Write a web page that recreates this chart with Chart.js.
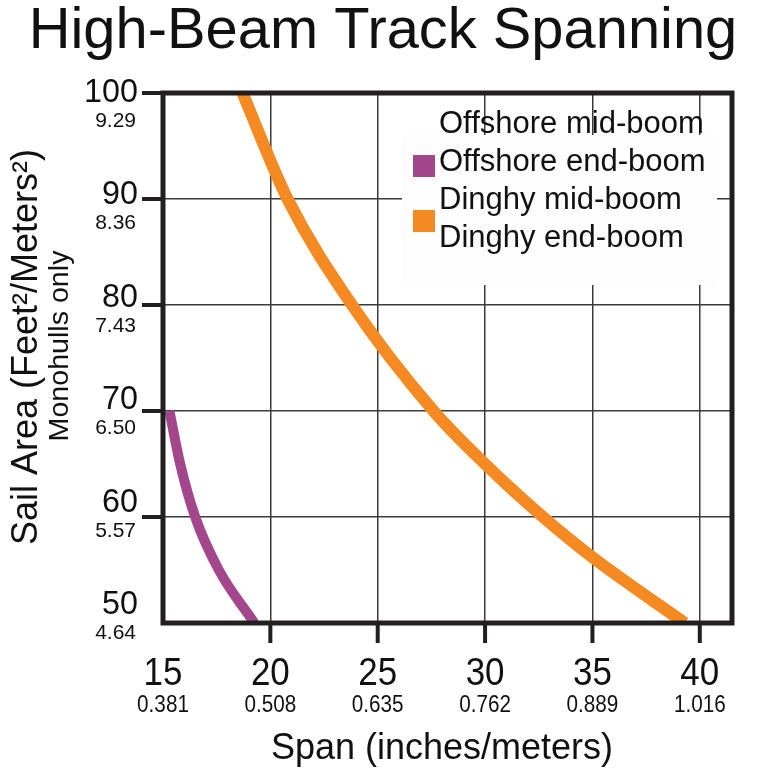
<!DOCTYPE html>
<html lang="en">
<head>
  <meta charset="UTF-8" />
  <title>High-Beam Track Spanning</title>
  <script src="https://cdn.jsdelivr.net/npm/chart.js"></script>
  <style>
    html, body { margin: 0; padding: 0; background: #fff; }
    #wrap { width: 768px; height: 768px; }
  </style>
</head>
<body>
  <div id="wrap"><canvas id="chart"></canvas></div>

  <script>
    const FONT = "'Liberation Sans', Arial, Helvetica, sans-serif";

    // span axis: inches with meters underneath
    const spanTicks = [15, 20, 25, 30, 35, 40];
    const spanMeters = ['0.381', '0.508', '0.635', '0.762', '0.889', '1.016'];

    // sail area axis: square feet with square meters underneath
    const areaTicks = [50, 60, 70, 80, 90, 100];
    const areaMeters = ['4.64', '5.57', '6.50', '7.43', '8.36', '9.29'];

    // curves
    const dinghySpan = [18.7, 20.8, 23.8, 27.6, 30.0, 32.7, 35.0, 39.3];
    const dinghyArea = [100, 90, 80, 70, 65.0, 60, 56.2, 50];
    const offshoreSpan = [15.3, 15.8, 16.5, 17.6, 19.25];
    const offshoreArea = [70, 65, 60, 55, 50];

    const legendLabels = ['Offshore mid-boom', 'Offshore end-boom', 'Dinghy mid-boom', 'Dinghy end-boom'];

    const ORANGE = '#f58a22';
    const PURPLE = '#a3468b';
    const INK = '#231f20';
    const TEXT = '#111';

    function txt(ctx, s, x, y, size, align, sx) {
      ctx.save();
      ctx.translate(x, y);
      if (sx) ctx.scale(sx, 1);
      ctx.font = size + 'px ' + FONT;
      ctx.textAlign = align || 'center';
      ctx.textBaseline = 'alphabetic';
      ctx.fillStyle = TEXT;
      ctx.fillText(s, 0, 0);
      ctx.restore();
    }

    function txtUp(ctx, s, x, y, size, sx) {
      ctx.save();
      ctx.translate(x, y);
      ctx.rotate(-Math.PI / 2);
      if (sx) ctx.scale(sx, 1);
      ctx.font = size + 'px ' + FONT;
      ctx.textAlign = 'center';
      ctx.textBaseline = 'alphabetic';
      ctx.fillStyle = TEXT;
      ctx.fillText(s, 0, 0);
      ctx.restore();
    }

    const decor = {
      id: 'decor',
      beforeDatasetsDraw(chart) {
        // legend panel sits over the grid
        const ctx = chart.ctx, a = chart.chartArea;
        ctx.save();
        ctx.fillStyle = '#fdfdfd';
        ctx.fillRect(a.right - 330, a.top + 42, 315, 150);
        ctx.restore();
      },
      afterDatasetsDraw(chart) {
        const ctx = chart.ctx, a = chart.chartArea;
        const xs = chart.scales.x, ys = chart.scales.y;

        ctx.save();
        ctx.strokeStyle = INK;
        ctx.lineWidth = 5;
        ctx.strokeRect(a.left, a.top, a.right - a.left, a.bottom - a.top);

        ctx.lineWidth = 4;
        ctx.beginPath();
        spanTicks.slice(1).forEach(v => {
          const px = xs.getPixelForValue(v);
          ctx.moveTo(px, a.bottom);
          ctx.lineTo(px, a.bottom + 20);
        });
        areaTicks.slice(1).forEach(v => {
          const py = ys.getPixelForValue(v);
          ctx.moveTo(a.left, py);
          ctx.lineTo(a.left - 21, py);
        });
        ctx.stroke();
        ctx.restore();

        // legend
        const lx = a.right - 293;
        legendLabels.forEach((s, i) => txt(ctx, s, lx, a.top + 40 + i * 38, 31, 'left'));
        ctx.save();
        ctx.fillStyle = PURPLE;
        ctx.fillRect(a.right - 319, a.top + 62, 22, 22);
        ctx.fillStyle = ORANGE;
        ctx.fillRect(a.right - 319, a.top + 117, 22, 22);
        ctx.restore();

        // y tick labels
        areaTicks.forEach((v, i) => {
          const py = ys.getPixelForValue(v);
          const drift = (v - 100) * 0.36;
          txt(ctx, String(v), a.left - 25, py + 9 + drift, 34, 'right', 0.95);
          txt(ctx, areaMeters[i], a.left - 27, py + 34 + drift, 21, 'right');
        });

        // x tick labels
        spanTicks.forEach((v, i) => {
          const px = xs.getPixelForValue(v);
          txt(ctx, String(v), px, a.bottom + 62, 38, 'center', 0.92);
          txt(ctx, spanMeters[i], px, a.bottom + 89, 23, 'center', 0.9);
        });

        // titles
        txt(ctx, 'High-Beam Track Spanning', 383, 48, 57, 'center', 1.015);
        txt(ctx, 'Span (inches/meters)', 442, a.bottom + 136, 36, 'center');
        txtUp(ctx, 'Sail Area (Feet²/Meters²)', 37, 347, 36);
        txtUp(ctx, 'Monohulls only', 68, 346, 27, 1.06);
      }
    };

    const ctx = document.getElementById('chart').getContext('2d');
    const chart = new Chart(ctx, {
      type: 'line',
      data: {
        datasets: [
          {
            label: 'Dinghy',
            data: dinghySpan.map((x, i) => ({ x, y: dinghyArea[i] })),
            borderColor: ORANGE,
            borderWidth: 12,
            borderCapStyle: 'butt',
            cubicInterpolationMode: 'monotone',
            pointRadius: 0,
            fill: false
          },
          {
            label: 'Offshore',
            data: offshoreSpan.map((x, i) => ({ x, y: offshoreArea[i] })),
            borderColor: PURPLE,
            borderWidth: 10,
            borderCapStyle: 'butt',
            cubicInterpolationMode: 'monotone',
            pointRadius: 0,
            fill: false
          }
        ]
      },
      options: {
        responsive: true,
        maintainAspectRatio: false,
        animation: false,
        layout: { padding: { left: 163, top: 93, right: 36, bottom: 145 } },
        plugins: { legend: { display: false }, tooltip: { enabled: false }, title: { display: false } },
        scales: {
          x: {
            type: 'linear',
            min: 15,
            max: 41.5,
            afterBuildTicks: axis => { axis.ticks = spanTicks.slice(1).map(v => ({ value: v })); },
            ticks: { display: false },
            border: { display: false },
            grid: { color: '#3b3b3b', lineWidth: 1.5, drawTicks: false }
          },
          y: {
            type: 'linear',
            min: 50,
            max: 100,
            afterBuildTicks: axis => { axis.ticks = areaTicks.slice(1, -1).map(v => ({ value: v })); },
            ticks: { display: false },
            border: { display: false },
            grid: { color: '#3b3b3b', lineWidth: 1.5, drawTicks: false }
          }
        }
      },
      plugins: [decor]
    });
  </script>
</body>
</html>
